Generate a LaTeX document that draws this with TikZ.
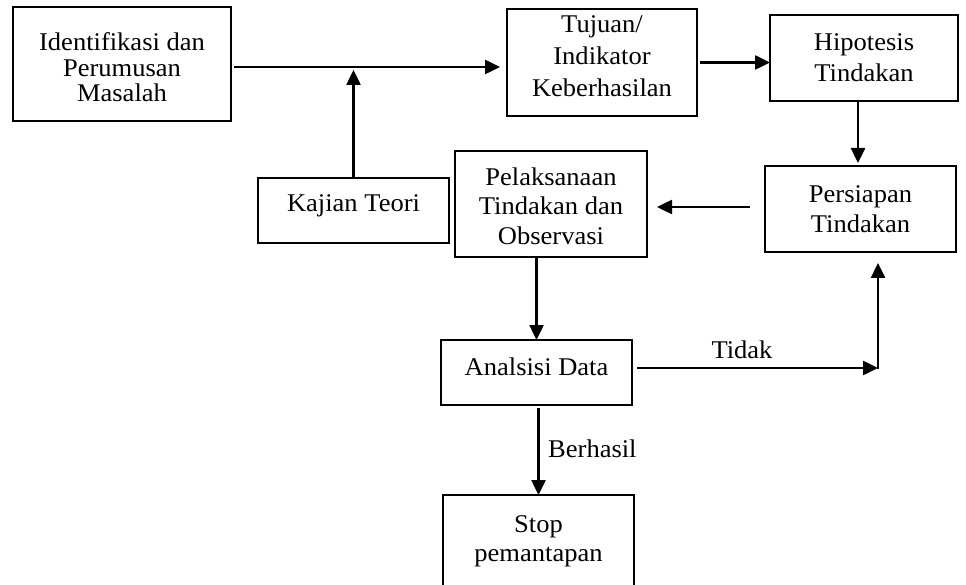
\documentclass[tikz,border=0pt]{standalone}
\usepackage{fontspec}
\setmainfont{Liberation Serif}[FakeStretch=1.04]
\usetikzlibrary{arrows.meta,calc}
% #1 = upward text shift, #2 = baselineskip, #3 = lines
\newcommand\bxt[3]{\fontsize{25.5}{#2}\selectfont\raisebox{0pt}[\dimexpr\height-#1\relax][\dimexpr\depth+#1\relax]{\begin{tabular}{@{}c@{}}#3\end{tabular}}}
\begin{document}
\begin{tikzpicture}[x=1pt,y=-1pt,
  bx/.style={draw, line width=1.5pt, rectangle, inner sep=0pt, outer sep=0pt},
  arr/.style={line width=2.5pt, -{Triangle[length=15pt,width=14pt]}},
  lbl/.style={font=\fontsize{25.5}{29}\selectfont, inner sep=0pt}]
\fill[white] (0,0) rectangle (966,585);
\useasboundingbox (0,0) rectangle (966,585);

\node[bx, minimum width=218pt, minimum height=114pt] (b1) at (122,64)
  {\bxt{-7pt}{25.5}{Identifikasi dan\\Perumusan\\Masalah}};
\node[bx, minimum width=190pt, minimum height=107pt] (tuj) at (602,62.5)
  {\bxt{4pt}{32}{Tujuan/\\Indikator\\Keberhasilan}};
\node[bx, minimum width=188pt, minimum height=86pt] (hip) at (864,58)
  {\bxt{-1.5pt}{31}{Hipotesis\\Tindakan}};
\node[bx, minimum width=191pt, minimum height=65pt] (kaj) at (353.5,210.5)
  {\bxt{4.5pt}{29}{Kajian Teori}};
\node[bx, minimum width=192pt, minimum height=106pt] (pel) at (551,204)
  {\bxt{-5pt}{29.5}{Pelaksanaan\\Tindakan dan\\Observasi}};
\node[bx, minimum width=191pt, minimum height=86pt] (per) at (860.5,209)
  {\bxt{-2.5pt}{30}{Persiapan\\Tindakan}};
\node[bx, minimum width=191pt, minimum height=65pt] (ana) at (536.5,372.5)
  {\bxt{2.5pt}{29}{Analsisi Data}};
\node[bx, minimum width=191pt, minimum height=92pt] (stop) at (538.5,541)
  {\bxt{0pt}{29}{Stop\\pemantapan}};

\coordinate (mid) at (354,67);
\coordinate (corner) at (878,368);

\draw[arr, shorten <=3pt, shorten >=7pt] (b1.east |- mid) -- (tuj.west |- mid);
\draw[arr, shorten >=3pt] (kaj.north) -- (kaj.north |- mid);
\draw[arr, shorten <=3pt] (tuj.east) -- (tuj.east -| hip.west);
\draw[arr, shorten >=3pt] ([xshift=-6pt]hip.south) -- ([xshift=-6pt]hip.south |- per.north);
\draw[arr, shorten <=15pt, shorten >=10pt] ([yshift=2pt]per.west) -- ([yshift=2pt]per.west -| pel.east);
\draw[arr] (ana.north |- pel.south) -- (ana.north);
\draw[arr, shorten <=5pt] ([yshift=4.5pt]ana.east) -- (corner);
\draw[arr, shorten <=-1.25pt, shorten >=11pt] (corner) -- (corner |- per.south);
\draw[arr, shorten <=3pt] (stop.north |- ana.south) -- (stop.north);

\node[lbl, anchor=base] (tidak) at (742,358) {Tidak};
\node[lbl, anchor=base west] (berhasil) at (548,457) {Berhasil};
\end{tikzpicture}
\end{document}
